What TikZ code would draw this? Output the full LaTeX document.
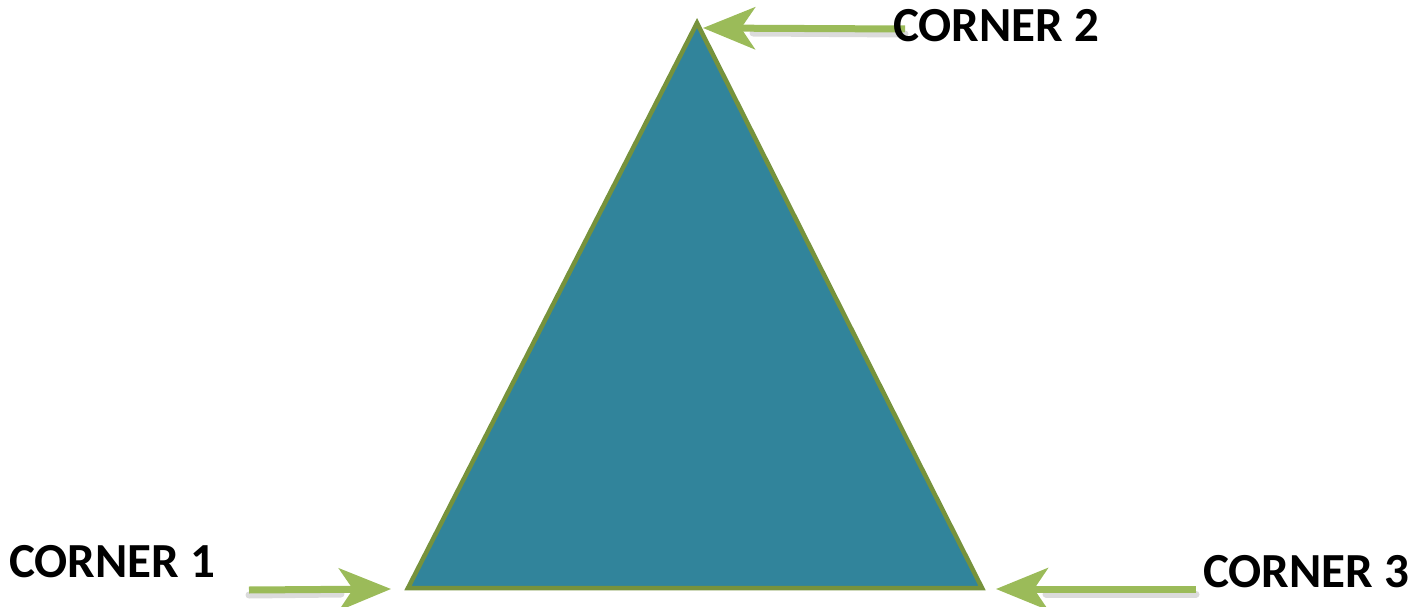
\documentclass[tikz,border=0pt]{standalone}
\usepackage{fontspec}
\setmainfont{Carlito}
\usetikzlibrary{arrows.meta}
\definecolor{tri}{RGB}{49,132,155}
\definecolor{triedge}{RGB}{118,146,60}
\definecolor{arr}{RGB}{155,187,89}
\tikzset{
  lbl/.style={font=\fontsize{49}{54}\selectfont\bfseries, text=black, inner sep=0pt, anchor=center},
  pointer/.style={draw=arr, line width=7pt, -{Stealth[length=52pt,width=42pt,inset=14pt]}},
  pshadow/.style={draw=black!14, line width=7pt, line cap=round},
}
\begin{document}
\begin{tikzpicture}[x=1pt,y=-1pt]
\useasboundingbox (0,0) rectangle (1411,607);
% triangle
\coordinate (c1) at (408,588);
\coordinate (c2) at (697,23);
\coordinate (c3) at (982,588);
\filldraw[fill=tri, draw=triedge, line width=4.5pt, line join=miter] (c1) -- (c2) -- (c3) -- cycle;
% arrow start points
\coordinate (s2) at (905,29);
\coordinate (t2) at (703,28);
\coordinate (s1) at (249,590);
\coordinate (t1) at (391,589);
\coordinate (s3) at (1196,589);
\coordinate (t3) at (996,589);
% shadows
\draw[pshadow] ([yshift=-5pt]s2) -- ([xshift=50pt,yshift=-5pt]t2);
\draw[pshadow] ([yshift=-5pt]s1) -- ([xshift=-50pt,yshift=-5pt]t1);
\draw[pshadow] ([yshift=-5pt]s3) -- ([xshift=50pt,yshift=-5pt]t3);
% arrows
\draw[pointer] (s2) -- (t2);
\draw[pointer] (s1) -- (t1);
\draw[pointer] (s3) -- (t3);
% labels
\node[lbl] (l2) at (996,26) {CORNER 2};
\node[lbl] (l1) at (112,562) {CORNER 1};
\node[lbl] (l3) at (1306,572) {CORNER 3};
\end{tikzpicture}
\end{document}
